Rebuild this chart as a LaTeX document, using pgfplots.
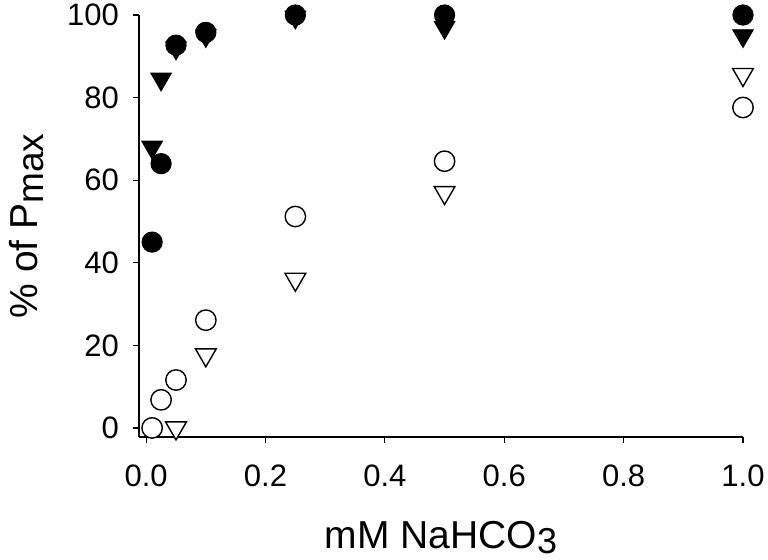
\documentclass[border=0pt]{standalone}
\usepackage{pgfplots}
\pgfplotsset{compat=1.18}
\usepackage{fontspec}
\setmainfont{Liberation Sans}

\begin{document}
\begin{tikzpicture}
\begin{axis}[
    scale only axis,
    width=302pt, height=211pt,
    xmin=-0.012, xmax=1.0,
    ymin=-2.2, ymax=100,
    axis lines*=left,
    axis line style={line width=0.6pt},
    tick align=outside,
    major tick length=3pt,
    tick style={line width=0.6pt, black},
    xtick={0,0.2,0.4,0.6,0.8,1.0},
    ytick={0,20,40,60,80,100},
    xticklabel style={/pgf/number format/.cd, fixed, fixed zerofill, precision=1, /tikz/.cd, yshift=-7.5pt},
    yticklabel style={xshift=-3.5pt},
    /pgf/number format/assume math mode=true,
    ticklabel style={font=\fontsize{15.5}{18}\selectfont},
    xlabel={mM NaHCO\raisebox{-0.14em}{\fontsize{18}{20}\selectfont 3}},
    ylabel={\% of P\raisebox{-0.14em}{\fontsize{18.5}{20}\selectfont max}},
    xlabel style={font=\fontsize{19.5}{23}\selectfont, at={([yshift=-55.5pt]axis description cs:0.5,0)}, anchor=base},
    ylabel style={font=\fontsize{19.5}{23}\selectfont, at={([xshift=-50.5pt]axis description cs:0,0.5)}, anchor=base},
    clip=false,
]
% filled triangles (under the circles)
\addplot[only marks, mark=triangle*, mark size=6pt, mark options={rotate=180, fill=black, draw=black}]
    coordinates {(0.01,68) (0.025,84.5) (0.05,92) (0.1,95) (0.25,99.5) (0.5,97) (1.0,95)};
% filled circles
\addplot[only marks, mark=*, mark size=5.1pt, mark options={fill=black, draw=black}]
    coordinates {(0.01,45) (0.025,64) (0.05,92.7) (0.1,95.8) (0.25,100) (0.5,100) (1.0,100)};
% open triangles
\addplot[only marks, mark=triangle*, mark size=6pt, mark options={rotate=180, fill=white, draw=black, line width=0.7pt}]
    coordinates {(0.05,0) (0.1,17.7) (0.25,36) (0.5,57) (1.0,85.6)};
% open circles
\addplot[only marks, mark=*, mark size=5.1pt, mark options={fill=white, draw=black, line width=0.7pt}]
    coordinates {(0.01,0) (0.025,6.8) (0.05,11.6) (0.1,26.1) (0.25,51.2) (0.5,64.6) (1.0,77.6)};
\end{axis}
\pgfresetboundingbox
\useasboundingbox ([shift={(-69.5pt,-61pt)}]current axis.south west) rectangle ([shift={(12.5pt,7.5pt)}]current axis.north east);
\end{tikzpicture}
\end{document}
